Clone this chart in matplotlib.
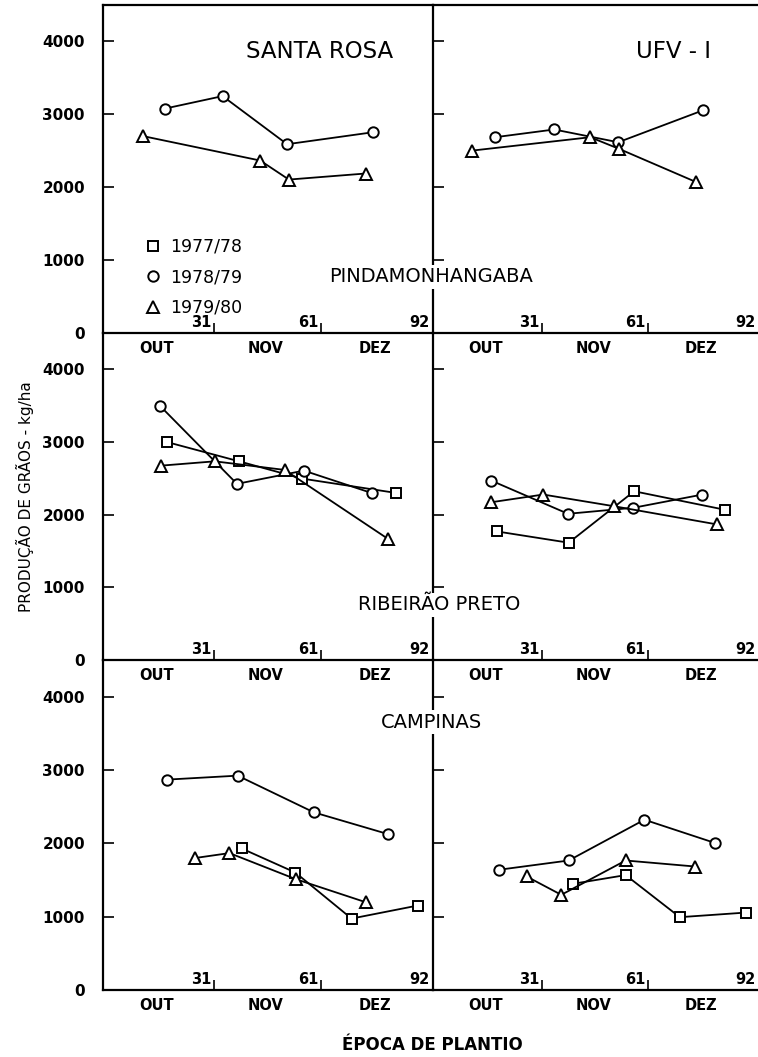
import matplotlib
matplotlib.use("Agg")
import matplotlib.pyplot as plt
from matplotlib.lines import Line2D

# planting date as day counted from 1 October; yield in kg/ha
# rows: Pindamonhangaba, Ribeirao Preto, Campinas ; cols: Santa Rosa, UFV-1
locais = ["PINDAMONHANGABA", "RIBEIRÃO PRETO", "CAMPINAS"]
cultivares = ["SANTA ROSA", "UFV - I"]
safras = ["1977/78", "1978/79", "1979/80"]
marcadores = ["s", "o", "^"]

# Pindamonhangaba
pin_sr_79_x = [17.4, 33.4, 51.4, 75.5]
pin_sr_79_y = [3080, 3250, 2590, 2755]
pin_sr_80_x = [11.3, 43.9, 51.9, 73.3]
pin_sr_80_y = [2700, 2366, 2105, 2188]
pin_uf_79_x = [17.7, 34.4, 52.5, 76.5]
pin_uf_79_y = [2686, 2792, 2617, 3056]
pin_uf_80_x = [11.3, 44.6, 52.7, 74.6]
pin_uf_80_y = [2503, 2686, 2527, 2069]

# Ribeirao Preto
rib_sr_78_x = [17.8, 38.0, 55.5, 81.7]
rib_sr_78_y = [3000, 2734, 2497, 2300]
rib_sr_79_x = [15.9, 37.4, 56.1, 75.2]
rib_sr_79_y = [3498, 2424, 2606, 2295]
rib_sr_80_x = [16.3, 31.2, 50.7, 79.5]
rib_sr_80_y = [2675, 2734, 2616, 1669]
rib_uf_78_x = [18.1, 38.5, 57.0, 82.7]
rib_uf_78_y = [1770, 1614, 2322, 2067]
rib_uf_79_x = [16.6, 38.3, 56.8, 76.3]
rib_uf_79_y = [2469, 2012, 2095, 2277]
rib_uf_80_x = [16.6, 31.3, 51.2, 80.4]
rib_uf_80_y = [2171, 2277, 2117, 1866]

# Campinas
cam_sr_78_x = [38.7, 53.7, 69.4, 87.9]
cam_sr_78_y = [1930, 1602, 974, 1152]
cam_sr_79_x = [17.9, 37.6, 58.9, 79.5]
cam_sr_79_y = [2869, 2923, 2422, 2127]
cam_sr_80_x = [25.6, 35.3, 53.8, 73.3]
cam_sr_80_y = [1799, 1867, 1512, 1198]
cam_uf_78_x = [39.7, 54.6, 69.9, 88.6]
cam_uf_78_y = [1448, 1567, 993, 1056]
cam_uf_79_x = [18.7, 38.5, 59.9, 79.9]
cam_uf_79_y = [1639, 1766, 2322, 2004]
cam_uf_80_x = [26.6, 36.4, 54.6, 74.2]
cam_uf_80_y = [1548, 1298, 1766, 1684]

paineis = [
    [{1: (pin_sr_79_x, pin_sr_79_y), 2: (pin_sr_80_x, pin_sr_80_y)},
     {1: (pin_uf_79_x, pin_uf_79_y), 2: (pin_uf_80_x, pin_uf_80_y)}],
    [{0: (rib_sr_78_x, rib_sr_78_y), 1: (rib_sr_79_x, rib_sr_79_y), 2: (rib_sr_80_x, rib_sr_80_y)},
     {0: (rib_uf_78_x, rib_uf_78_y), 1: (rib_uf_79_x, rib_uf_79_y), 2: (rib_uf_80_x, rib_uf_80_y)}],
    [{0: (cam_sr_78_x, cam_sr_78_y), 1: (cam_sr_79_x, cam_sr_79_y), 2: (cam_sr_80_x, cam_sr_80_y)},
     {0: (cam_uf_78_x, cam_uf_78_y), 1: (cam_uf_79_x, cam_uf_79_y), 2: (cam_uf_80_x, cam_uf_80_y)}],
]

meses = ["OUT", "NOV", "DEZ"]
meses_pos = [15, 45.5, 76]
dias = [31, 61, 92]
y_ticks = [0, 1000, 2000, 3000, 4000]

tam_marc = {"s": 7, "o": 7.5, "^": 8}

W, H = 758, 1057
fig = plt.figure(figsize=(W / 100, H / 100), dpi=100)

col_x = [103, 432.5]
col_w = [329.5, 325.5]
row_top = [5, 333, 660]
row_bot = [333, 660, 990]
titulo_x = [320, 674]

for r in range(3):
    for c in range(2):
        ax = fig.add_axes([col_x[c] / W, 1 - row_bot[r] / H,
                           col_w[c] / W, (row_bot[r] - row_top[r]) / H])
        ax.set_xlim(0, 92)
        ax.set_ylim(0, 4500)
        ax.patch.set_alpha(0)
        ax.spines["right"].set_visible(False)
        ax.spines["top"].set_visible(r == 0)
        for s in ax.spines.values():
            s.set_linewidth(1.6)

        for k, (xs, ys) in paineis[r][c].items():
            m = marcadores[k]
            ax.plot(xs, ys, color="black", lw=1.3, marker=m, ms=tam_marc[m],
                    mfc="white", mec="black", mew=1.4, zorder=3)

        ax.set_yticks(y_ticks)
        ax.tick_params(axis="y", direction="in", length=8, width=1.2, right=False)
        if c == 0:
            ax.set_yticklabels([str(v) for v in y_ticks], fontsize=11,
                               fontweight="bold")
            ax.tick_params(axis="y", pad=13)
        else:
            ax.set_yticklabels([])

        ax.set_xticks(dias[:2])
        ax.set_xticklabels([])
        ax.tick_params(axis="x", direction="in", length=7, width=1.2, top=False)
        for d in dias:
            ax.annotate(str(d), xy=(d, 0), xycoords=("data", "axes fraction"),
                        xytext=(-2, 2), textcoords="offset points",
                        ha="right", va="bottom", fontsize=10.5, fontweight="bold")
        for mes, p in zip(meses, meses_pos):
            ax.annotate(mes, xy=(p, 0), xycoords=("data", "axes fraction"),
                        xytext=(0, -11), textcoords="offset points",
                        ha="center", va="center", fontsize=10.5,
                        fontweight="bold", annotation_clip=False)

        if r == 0:
            tx = (titulo_x[c] - col_x[c]) / col_w[c]
            ax.text(tx, (row_bot[0] - 52) / (row_bot[0] - row_top[0]),
                    cultivares[c], transform=ax.transAxes, ha="center",
                    va="center", fontsize=16.5, fontweight="medium")

        if r == 0 and c == 0:
            handles = [Line2D([], [], ls="none", marker=m, ms=tam_marc[m],
                              mfc="white", mec="black", mew=1.4)
                       for m in marcadores]
            ax.legend(handles, safras, loc="lower left",
                      bbox_to_anchor=(0.13, 0.05), frameon=False,
                      fontsize=12.5, handlelength=0.8, handletextpad=0.6,
                      labelspacing=0.72, borderpad=0, borderaxespad=0)

# location names sit across the middle divider
loc_y = [277, 605, 722]
loc_x = [431, 439, 431]
for nome, yy, xx in zip(locais, loc_y, loc_x):
    fig.text(xx / W, 1 - yy / H, nome, ha="center", va="center", fontsize=14,
             zorder=10, bbox=dict(facecolor="white", edgecolor="none", pad=1.5))

fig.text(25 / W, 1 - 497 / H, "PRODUÇÃO DE GRÃOS - kg/ha", rotation=90,
         ha="center", va="center", fontsize=11)
fig.text(432 / W, 1 - 1045 / H, "ÉPOCA DE PLANTIO", ha="center", va="center",
         fontsize=12, fontweight="bold")

fig.savefig("out.png", dpi=100)
